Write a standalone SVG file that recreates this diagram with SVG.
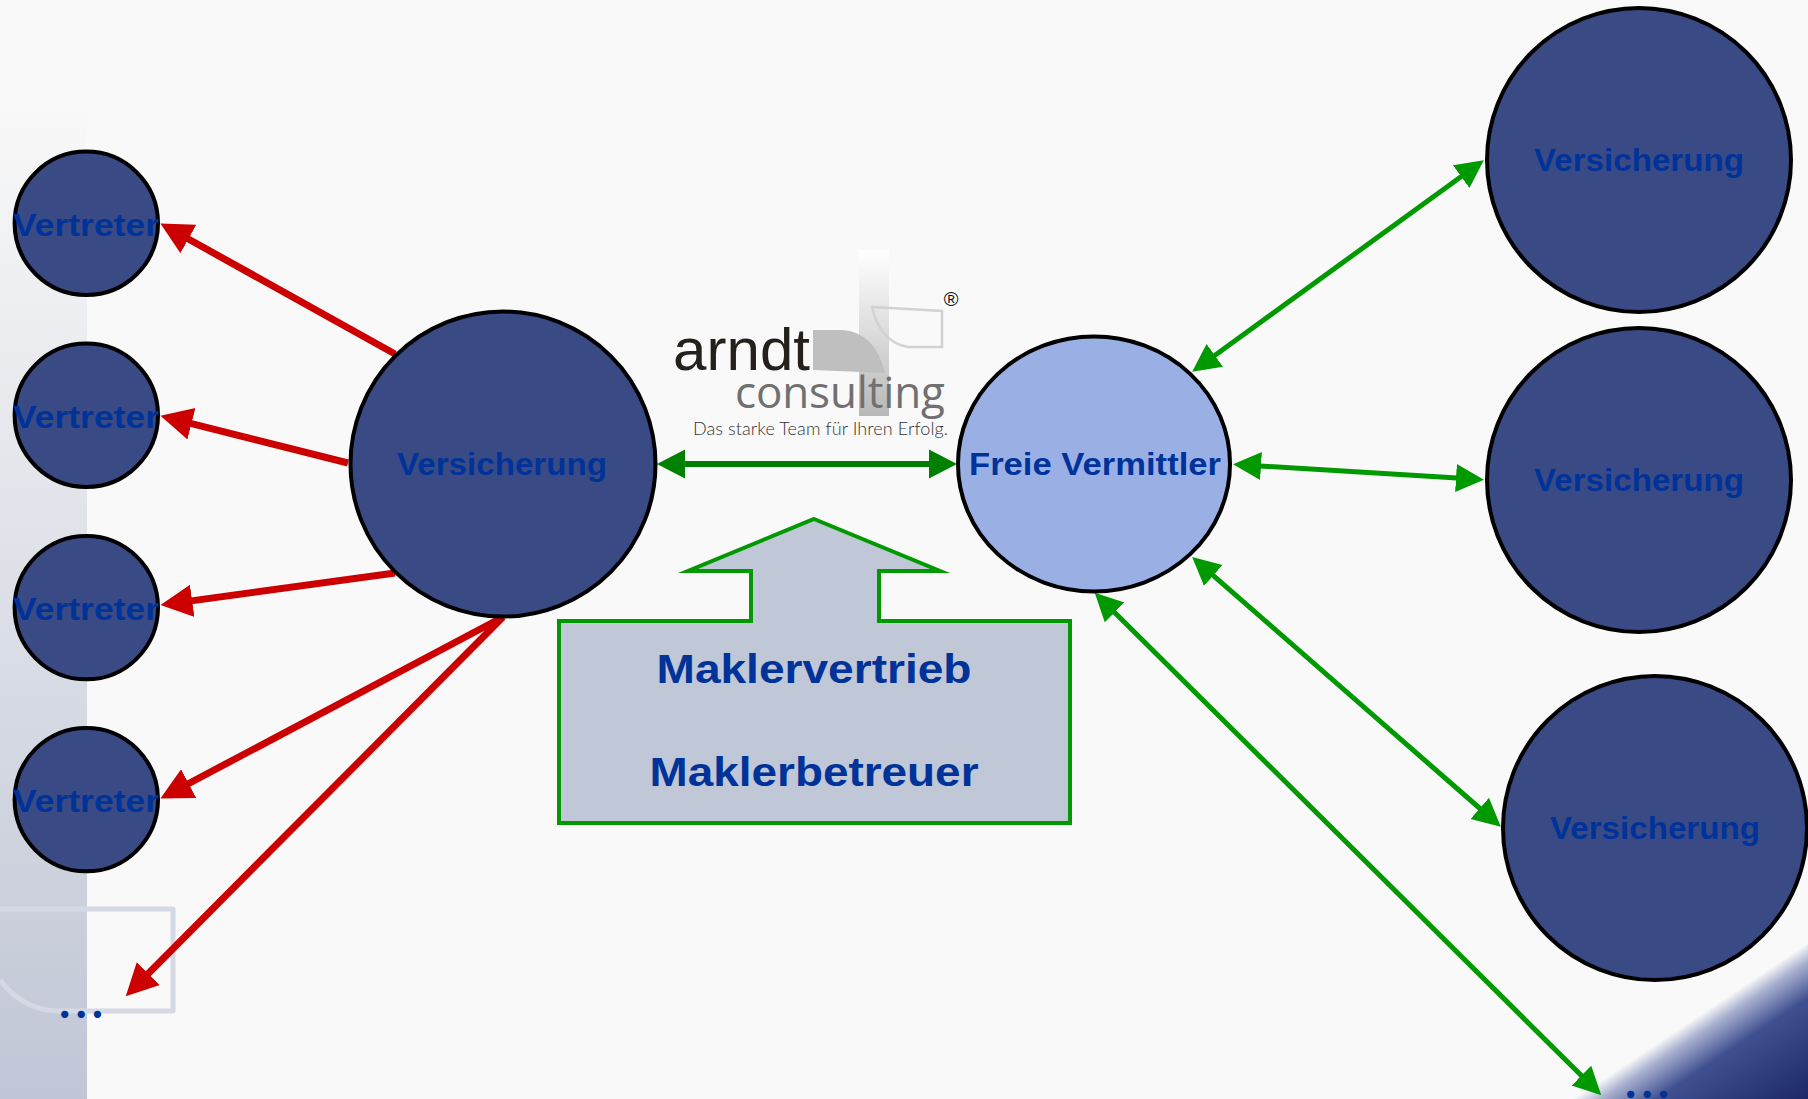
<svg xmlns="http://www.w3.org/2000/svg" width="1808" height="1099" viewBox="0 0 1808 1099">
<style>
.node{fill:#394a85;stroke:#000;stroke-width:4}
.lbl{font-family:"Liberation Sans",Arial,sans-serif;font-weight:700;font-size:31px;fill:#003399;text-anchor:middle}
.red{stroke:#cc0000;stroke-width:7;fill:none;marker-end:url(#hr)}
.grn{stroke:#009900;stroke-width:5;fill:none;marker-start:url(#hg);marker-end:url(#hg)}
.dgr{stroke:#008000;stroke-width:6;fill:none;marker-start:url(#hd);marker-end:url(#hd)}
.big{font-family:"Liberation Sans",Arial,sans-serif;font-weight:700;font-size:41px;fill:#003399;text-anchor:middle}
.dots{font-family:Lato,sans-serif;font-weight:700;font-size:48px;fill:#003399;letter-spacing:5px}
</style>
<defs>
<linearGradient id="band" gradientUnits="userSpaceOnUse" x1="0" y1="100" x2="0" y2="1099"><stop offset="0" stop-color="#f9f9f9"/><stop offset="1" stop-color="#c0c6d5"/></linearGradient>
<linearGradient id="corner" gradientUnits="userSpaceOnUse" x1="1690" y1="1021" x2="1762" y2="1129"><stop offset="0" stop-color="#f9f9f9"/><stop offset="0.12" stop-color="#a9b1d0"/><stop offset="0.36" stop-color="#3f4f90"/><stop offset="1" stop-color="#1c2868"/></linearGradient>
<linearGradient id="bar" x1="0" y1="0" x2="0" y2="1"><stop offset="0" stop-color="#ffffff"/><stop offset="1" stop-color="#b8b8b8"/></linearGradient>
<marker id="hr" markerUnits="userSpaceOnUse" markerWidth="36" markerHeight="36" refX="1" refY="17" orient="auto"><path d="M0,0.75 L32,17 L0,33.25z" fill="#cc0000"/></marker>
<marker id="hg" markerUnits="userSpaceOnUse" markerWidth="32" markerHeight="32" refX="1" refY="15" orient="auto-start-reverse"><path d="M0,1 L28,15 L0,29z" fill="#009900"/></marker>
<marker id="hd" markerUnits="userSpaceOnUse" markerWidth="32" markerHeight="32" refX="1" refY="15" orient="auto-start-reverse"><path d="M0,0.5 L28,15 L0,29.5z" fill="#008000"/></marker>
</defs>
<rect width="1808" height="1099" fill="#f9f9f9"/>
<rect x="0" y="100" width="87" height="999" fill="url(#band)"/>
<path d="M1572,1099 L1808,943 L1808,1099z" fill="url(#corner)"/>
<path d="M0,909 H173 V1011 H60 C35,1011 15,1000 0,980" fill="none" stroke="#d5d9e5" stroke-width="5" stroke-linejoin="round"/>
<g id="logo">
<rect x="859" y="250" width="30" height="166" fill="url(#bar)"/>
<path d="M813,330 H842 Q875,332 885,373 L813,370z" fill="#bfbfbf"/>
<path d="M872,307 L942,311 V347 H908 Q880,342 872,307z" fill="none" stroke="#d2d2d2" stroke-width="2.5"/>
<text x="673" y="370" font-family="'Liberation Sans',Arial,sans-serif" font-size="60" fill="#24211d" textLength="137">arndt</text>
<text x="735" y="408" font-family="'Open Sans',sans-serif" font-size="44" fill="#707070" textLength="210">consulting</text>
<text x="693" y="435" font-family="Lato,sans-serif" font-weight="300" font-size="18" fill="#333" textLength="255">Das starke Team für Ihren Erfolg.</text>
<text x="951" y="306" font-family="'Liberation Sans',Arial,sans-serif" font-size="20" fill="#111" text-anchor="middle">®</text>
</g>
<g id="connectors">
<line class="red" x1="395" y1="354" x2="187.5" y2="238.5"/>
<line class="red" x1="348" y1="463" x2="190.5" y2="423.4"/>
<line class="red" x1="395" y1="573" x2="191.2" y2="600.9"/>
<line class="red" x1="503" y1="617" x2="187.8" y2="784"/>
<line class="red" x1="503" y1="617" x2="147.6" y2="974.3"/>
<line class="dgr" x1="684" y1="464" x2="930" y2="464"/>
<line class="grn" x1="1214" y1="356" x2="1462" y2="176"/>
<line class="grn" x1="1260" y1="466" x2="1457" y2="478"/>
<line class="grn" x1="1212.5" y1="574.8" x2="1480.5" y2="809"/>
<line class="grn" x1="1113.9" y1="611.7" x2="1582.1" y2="1076.3"/>
</g>
<g id="v1"><circle class="node" cx="86.3" cy="223.3" r="71.7"/><text class="lbl" x="86" y="236" textLength="146" lengthAdjust="spacingAndGlyphs">Vertreter</text></g>
<g id="v2"><circle class="node" cx="86.3" cy="415.3" r="71.7"/><text class="lbl" x="86" y="428" textLength="146" lengthAdjust="spacingAndGlyphs">Vertreter</text></g>
<g id="v3"><circle class="node" cx="86.3" cy="607.6" r="71.7"/><text class="lbl" x="86" y="620" textLength="146" lengthAdjust="spacingAndGlyphs">Vertreter</text></g>
<g id="v4"><circle class="node" cx="86.3" cy="799.6" r="71.7"/><text class="lbl" x="86" y="812" textLength="146" lengthAdjust="spacingAndGlyphs">Vertreter</text></g>
<g id="vers-left"><circle class="node" cx="503" cy="464" r="152.5"/><text class="lbl" x="502" y="475" textLength="210" lengthAdjust="spacingAndGlyphs">Versicherung</text></g>
<g id="freie"><ellipse cx="1094" cy="464" rx="136" ry="127.5" fill="#9ab0e4" stroke="#000" stroke-width="4"/><text class="lbl" x="1095" y="475" textLength="252" lengthAdjust="spacingAndGlyphs">Freie Vermittler</text></g>
<g id="vers-r1"><circle class="node" cx="1639" cy="160" r="152"/><text class="lbl" x="1639" y="171" textLength="210" lengthAdjust="spacingAndGlyphs">Versicherung</text></g>
<g id="vers-r2"><circle class="node" cx="1639" cy="480" r="152"/><text class="lbl" x="1639" y="491" textLength="210" lengthAdjust="spacingAndGlyphs">Versicherung</text></g>
<g id="vers-r3"><circle class="node" cx="1655" cy="828" r="152"/><text class="lbl" x="1655" y="839" textLength="210" lengthAdjust="spacingAndGlyphs">Versicherung</text></g>
<g id="makler">
<path d="M814,519 L940,571 H879 V621 H1070 V823 H559 V621 H751 V571 H688z" fill="#c0c7d6" stroke="#009900" stroke-width="4" stroke-miterlimit="6"/>
<text class="big" x="814" y="683" textLength="315" lengthAdjust="spacingAndGlyphs">Maklervertrieb</text>
<text class="big" x="814" y="786" textLength="329" lengthAdjust="spacingAndGlyphs">Maklerbetreuer</text>
</g>
<text class="dots" x="59" y="1018">...</text>
<text class="dots" x="1625" y="1098">...</text>
</svg>
